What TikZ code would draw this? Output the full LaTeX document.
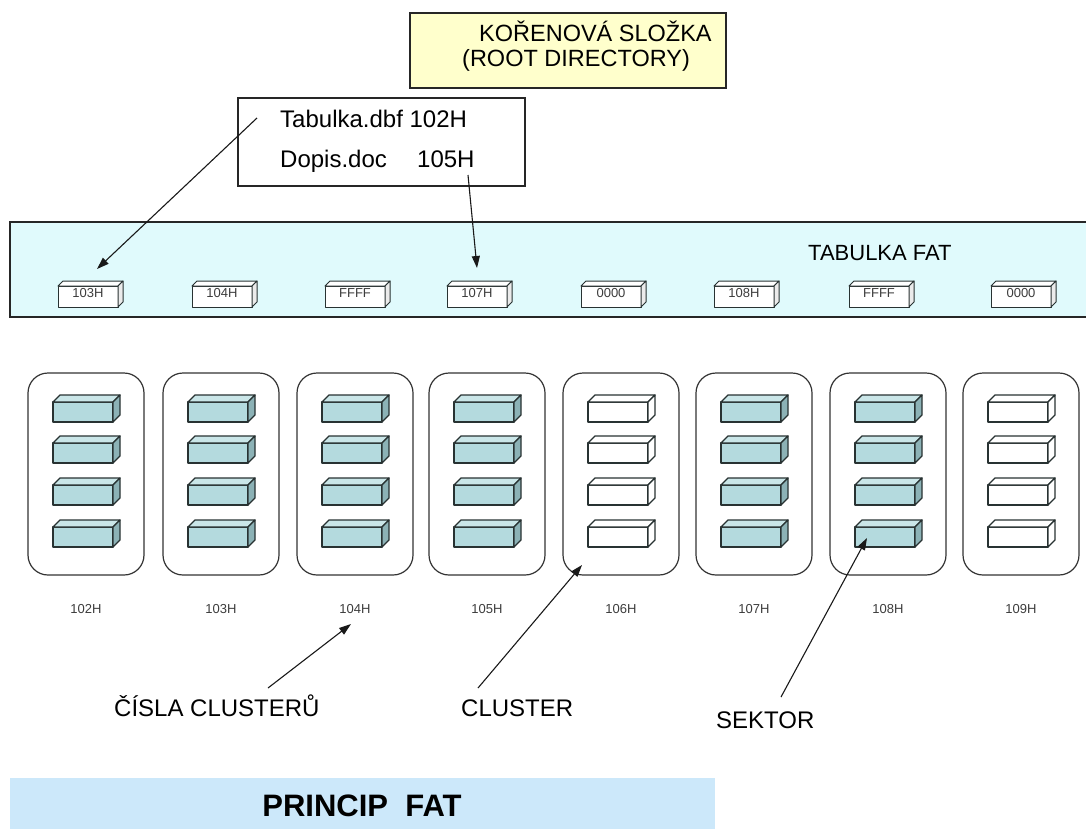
\documentclass[tikz,border=0pt]{standalone}
\usepackage{fontspec}
\setmainfont{Liberation Sans}
\usetikzlibrary{arrows.meta}
\definecolor{rootyellow}{RGB}{255,255,204}
\definecolor{fatband}{RGB}{224,250,252}
\definecolor{titleblue}{RGB}{204,232,250}
\definecolor{secfront}{RGB}{180,218,222}
\definecolor{sectop}{RGB}{202,230,232}
\definecolor{secside}{RGB}{140,178,182}
\definecolor{edgecol}{RGB}{40,50,50}
\definecolor{lblcol}{RGB}{60,60,60}
\tikzset{
  boxedge/.style={draw=edgecol, line width=1pt, line join=round},
  plainbox/.style={draw=black!85, line width=1.2pt, inner sep=0pt, outer sep=0pt, anchor=north west},
  fatfront/.style={boxedge, fill=white, minimum width=60pt, minimum height=21pt, inner sep=0pt, outer sep=0pt, anchor=north west},
  secfrontbox/.style={boxedge, line width=1.3pt, minimum width=60pt, minimum height=20pt, inner sep=0pt, outer sep=0pt, anchor=north west},
  secA/.style={fill=secfront}, secAtop/.style={fill=sectop}, secAside/.style={fill=secside},
  secB/.style={fill=white}, secBtop/.style={fill=white}, secBside/.style={fill=white},
  cluster/.style={draw=black!80, line width=1.2pt, rounded corners=20pt, minimum width=116pt, minimum height=202pt, inner sep=0pt, outer sep=0pt, anchor=north west},
  smalllbl/.style={font=\fontsize{13}{15}\selectfont, text=lblcol, inner sep=0pt, anchor=base},
  midtxt/.style={font=\fontsize{24}{28}\selectfont, inner sep=0pt, anchor=base west},
  roottxt/.style={font=\fontsize{23.5}{28}\selectfont, inner sep=0pt, anchor=base west},
  fattxt/.style={font=\fontsize{22}{26}\selectfont, inner sep=0pt, anchor=base west},
  titletxt/.style={font=\fontsize{31}{36}\selectfont\bfseries, inner sep=0pt, anchor=base},
  arr/.style={draw=black!90, line width=1.1pt, -{Triangle[length=12pt,width=8pt]}}
}
\newcommand\fatbox[4]{%
  \node[fatfront] (#1) at (#2,#3) {};
  \draw[boxedge, fill=white] (#1.north west) -- ([shift={(5,-5)}]#1.north west) -- ([shift={(5,-5)}]#1.north east) -- (#1.north east) -- cycle;
  \draw[boxedge, fill=black!8] (#1.north east) -- ([shift={(5,-5)}]#1.north east) -- ([shift={(5,-5)}]#1.south east) -- (#1.south east) -- cycle;
  \node[smalllbl] (#1l) at ([shift={(30,11)}]#1.north west) {#4};
}
\newcommand\sectorbox[4]{%
  \node[secfrontbox, #4] (#1) at (#2,#3) {};
  \draw[boxedge, line width=1.3pt, #4top] (#1.north west) -- ([shift={(7,-7)}]#1.north west) -- ([shift={(7,-7)}]#1.north east) -- (#1.north east) -- cycle;
  \draw[boxedge, line width=1.3pt, #4side] (#1.north east) -- ([shift={(7,-7)}]#1.north east) -- ([shift={(7,-7)}]#1.south east) -- (#1.south east) -- cycle;
}
\begin{document}
\begin{tikzpicture}[x=1pt, y=-1pt]
\useasboundingbox (0,0) rectangle (1086,828);
% root directory
\node[plainbox, fill=rootyellow, minimum width=316pt, minimum height=75pt] (root) at (410,13) {};
\node[roottxt] (r1) at (479,41) {KOŘENOVÁ SLOŽKA};
\node[roottxt] (r2) at (462,66) {(ROOT DIRECTORY)};
% directory entries
\node[plainbox, fill=white, minimum width=287pt, minimum height=88pt] (dir) at (238,98) {};
\node[midtxt] (tab) at (280,127) {Tabulka.dbf 102H};
\node[midtxt] (dop) at (280,167) {Dopis.doc};
\node[midtxt] (dopn) at (417,167) {105H};
% FAT band
\fill[fatband] (10,222) rectangle (1086,317);
\draw[black!85, line width=1.2pt] (1086,222) -- (10,222) -- (10,317) -- (1086,317);
\node[fattxt] (fattitle) at (808,260) {TABULKA FAT};
\foreach \i/\x/\lab in {1/58/103H, 2/192/104H, 3/325/FFFF, 4/447/107H, 5/581/0000, 6/714/108H, 7/849/FFFF, 8/991/0000}{
  \fatbox{f\i}{\x}{286}{\lab}
}
% clusters
\foreach \i/\x/\lab/\st in {1/28/102H/secA, 2/163/103H/secA, 3/297/104H/secA, 4/429/105H/secA, 5/563/106H/secB, 6/696/107H/secA, 7/830/108H/secA, 8/963/109H/secB}{
  \node[cluster] (c\i) at (\x,373) {};
  \foreach \j/\yy in {1/402, 2/443, 3/485, 4/527}{
    \sectorbox{s\i-\j}{\x+25}{\yy}{\st}
  }
  \node[smalllbl] (cl\i) at (\x+58,613) {\lab};
}
% bottom labels
\node[midtxt] (cislo) at (114,716) {ČÍSLA CLUSTERŮ};
\node[midtxt] (clus) at (461,716) {CLUSTER};
\node[midtxt] (sek) at (716,728) {SEKTOR};
% title bar
\node[inner sep=0pt, outer sep=0pt, anchor=north west, fill=titleblue, minimum width=705pt, minimum height=52pt] (tbar) at (10,778) {};
\node[titletxt] (title) at (362,816) {PRINCIP\ \ FAT};
% arrows
\coordinate (a1s) at (257,118); \coordinate (a1e) at (97,269);
\coordinate (a2s) at (468,175); \coordinate (a2e) at (477,268);
\coordinate (a3s) at (268,688); \coordinate (a3e) at (351,624);
\coordinate (a4s) at (478,688); \coordinate (a4e) at (582,565);
\coordinate (a5s) at (781,697); \coordinate (a5e) at (867,538);
\draw[arr] (a1s) -- (a1e);
\draw[arr] (a2s) -- (a2e);
\draw[arr] (a3s) -- (a3e);
\draw[arr] (a4s) -- (a4e);
\draw[arr] (a5s) -- (a5e);
\end{tikzpicture}
\end{document}
